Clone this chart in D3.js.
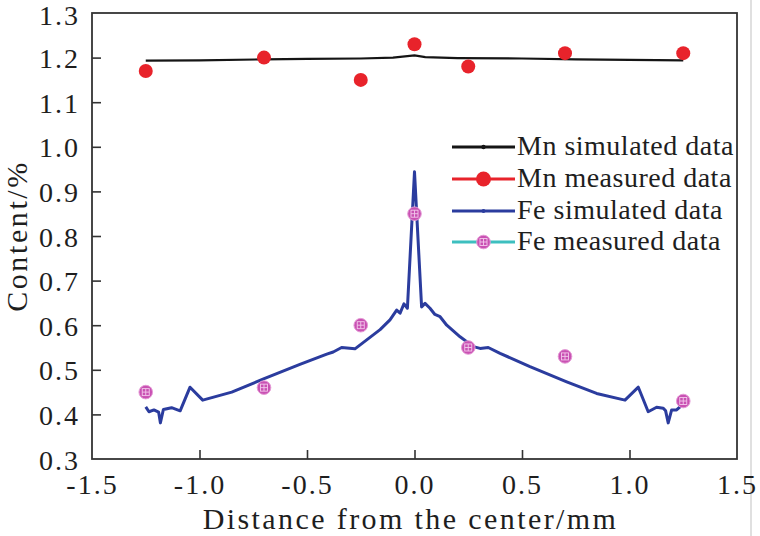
<!DOCTYPE html>
<html><head><meta charset="utf-8">
<script src="https://cdn.jsdelivr.net/npm/d3@7"></script>
<style>body{margin:0;background:#fff}svg{display:block}</style>
</head><body>
<svg id="c" width="760" height="536"></svg>
<script>
const xTicks = [-1.5, -1.0, -0.5, 0.0, 0.5, 1.0, 1.5];
const yTicks = [0.3, 0.4, 0.5, 0.6, 0.7, 0.8, 0.9, 1.0, 1.1, 1.2, 1.3];

const mnSimX = [-1.25, -1.0, -0.7, -0.5, -0.25, -0.1, 0.0, 0.05, 0.2, 0.5, 0.75, 1.0, 1.25];
const mnSimY = [1.193, 1.194, 1.196, 1.197, 1.198, 1.200, 1.205, 1.201, 1.199, 1.198, 1.196, 1.195, 1.194];

const mnMeasX = [-1.25, -0.7, -0.25, 0.0, 0.25, 0.7, 1.25];
const mnMeasY = [1.17, 1.20, 1.15, 1.23, 1.18, 1.21, 1.21];

const feSimX = [-1.25, -1.235, -1.212, -1.19, -1.182, -1.168, -1.13, -1.09, -1.044, -0.985, -0.85, -0.705, -0.533, -0.408, -0.378, -0.339, -0.277, -0.16, -0.114, -0.083, -0.067, -0.049, -0.033, 0.0, 0.033, 0.049, 0.072, 0.095, 0.119, 0.15, 0.212, 0.274, 0.305, 0.343, 0.398, 0.537, 0.708, 0.847, 0.979, 1.041, 1.087, 1.126, 1.157, 1.168, 1.18, 1.196, 1.219, 1.235, 1.25];
const feSimY = [0.417, 0.406, 0.410, 0.405, 0.381, 0.411, 0.415, 0.408, 0.461, 0.432, 0.450, 0.479, 0.512, 0.535, 0.540, 0.550, 0.547, 0.590, 0.612, 0.634, 0.627, 0.648, 0.638, 0.944, 0.641, 0.649, 0.638, 0.624, 0.619, 0.600, 0.574, 0.552, 0.548, 0.550, 0.537, 0.507, 0.473, 0.447, 0.432, 0.461, 0.406, 0.416, 0.414, 0.408, 0.381, 0.410, 0.410, 0.417, 0.425];

const feMeasX = [-1.25, -0.7, -0.25, 0.0, 0.25, 0.7, 1.25];
const feMeasY = [0.45, 0.46, 0.60, 0.85, 0.55, 0.53, 0.43];

const legendLabels = ["Mn simulated data", "Mn measured data", "Fe simulated data", "Fe measured data"];

const C = {black:"#151515", red:"#e8232b", blue:"#2b3c9e", pink:"#c951b3", cyan:"#3dbfbf", text:"#1e1e1e"};
const FONT = "'Liberation Serif','Times New Roman',serif";

const svg = d3.select("#c");
const L = 92, R = 737, T = 13, B = 459;
const x = d3.scaleLinear().domain([-1.5, 1.5]).range([L, R]);
const y = d3.scaleLinear().domain([0.3, 1.3]).range([B, T]);

// faint right border artifact
svg.append("line").attr("x1",751).attr("x2",751).attr("y1",0).attr("y2",536)
  .attr("stroke","#d6d6d6").attr("stroke-width",1.5);

const fmt = v => d3.format(".1f")(v).replace("\u2212","-");

// axes
const gx = svg.append("g").attr("transform",`translate(0,${B})`)
  .call(d3.axisBottom(x).tickValues(xTicks).tickSize(-9).tickPadding(14).tickFormat(fmt));
const gy = svg.append("g").attr("transform",`translate(${L},0)`)
  .call(d3.axisLeft(y).tickValues(yTicks).tickSize(-9).tickPadding(12).tickFormat(fmt));
[gx, gy].forEach(g => {
  g.select(".domain").remove();
  g.selectAll(".tick line").attr("stroke","#333").attr("stroke-width",1.6);
  g.selectAll(".tick text").attr("font-family",FONT).attr("font-size",28)
    .attr("fill",C.text).style("letter-spacing","2px");
});
gx.selectAll(".tick text").attr("dy","0.75em");
gy.selectAll(".tick text").attr("dy","0.36em");
gy.selectAll(".tick").filter(d => d === 1.3).select("text").attr("dy","0.42em");
// remove ticks at the frame edges
gx.selectAll(".tick").filter(d => d === -1.5 || d === 1.5).select("line").remove();
gy.selectAll(".tick").filter(d => d === 0.3 || d === 1.3).select("line").remove();

// frame
svg.append("rect").attr("x",L).attr("y",T).attr("width",R-L).attr("height",B-T)
  .attr("fill","none").attr("stroke","#333").attr("stroke-width",1.8);

const line = d3.line().x(d => x(d[0])).y(d => y(d[1]));

// Mn simulated
svg.append("path").datum(d3.zip(mnSimX, mnSimY)).attr("d", line)
  .attr("fill","none").attr("stroke",C.black).attr("stroke-width",2.2);

// Fe simulated
svg.append("path").datum(d3.zip(feSimX, feSimY)).attr("d", line)
  .attr("fill","none").attr("stroke",C.blue).attr("stroke-width",3).attr("stroke-linejoin","round");

// Mn measured
svg.append("g").selectAll("circle").data(d3.zip(mnMeasX, mnMeasY)).join("circle")
  .attr("cx", d => x(d[0])).attr("cy", d => y(d[1])).attr("r", 7).attr("fill", C.red);

// Fe measured marker
function feMarker(g, cx, cy) {
  g.append("circle").attr("cx",cx).attr("cy",cy).attr("r",6.8).attr("fill",C.pink)
    .attr("stroke","#e59ad6").attr("stroke-width",1);
  g.append("rect").attr("x",cx-3.5).attr("y",cy-3.5).attr("width",7).attr("height",7)
    .attr("fill","none").attr("stroke","#f3c8ec").attr("stroke-width",0.9);
  g.append("line").attr("x1",cx-3.5).attr("x2",cx+3.5).attr("y1",cy).attr("y2",cy)
    .attr("stroke","#f3c8ec").attr("stroke-width",0.9);
  g.append("line").attr("x1",cx).attr("x2",cx).attr("y1",cy-3.5).attr("y2",cy+3.5)
    .attr("stroke","#f3c8ec").attr("stroke-width",0.9);
}
const gfe = svg.append("g");
d3.zip(feMeasX, feMeasY).forEach(d => feMarker(gfe, x(d[0]), y(d[1])));

// legend
const lg = svg.append("g");
const rowsY = [147, 179, 211, 242];
const lineCol = [C.black, C.red, C.blue, C.cyan];
legendLabels.forEach((lab, i) => {
  const yy = rowsY[i];
  lg.append("rect").attr("x",452).attr("y",yy-1.5).attr("width",63).attr("height",3).attr("fill",lineCol[i]);
  const mx = 483.5;
  if (i === 0) lg.append("circle").attr("cx",mx).attr("cy",yy).attr("r",2.2).attr("fill",C.black);
  if (i === 1) lg.append("circle").attr("cx",mx).attr("cy",yy).attr("r",7.5).attr("fill",C.red);
  if (i === 2) lg.append("circle").attr("cx",mx).attr("cy",yy).attr("r",2).attr("fill",C.blue);
  if (i === 3) feMarker(lg, mx, yy);
  lg.append("text").attr("x",517).attr("y",yy+8).text(lab)
    .attr("font-family",FONT).attr("font-size",28).attr("fill",C.text).style("letter-spacing","0.5px");
});

// axis titles
svg.append("text").attr("x",(L+R)/2 - 4).attr("y",529).attr("text-anchor","middle")
  .text("Distance from the center/mm").attr("font-family",FONT).attr("font-size",30)
  .attr("fill",C.text).style("letter-spacing","2.4px");
svg.append("text").attr("transform","translate(27,236) rotate(-90)").attr("text-anchor","middle")
  .text("Content/%").attr("font-family",FONT).attr("font-size",30)
  .attr("fill",C.text).style("letter-spacing","2.6px");
</script>
</body></html>
